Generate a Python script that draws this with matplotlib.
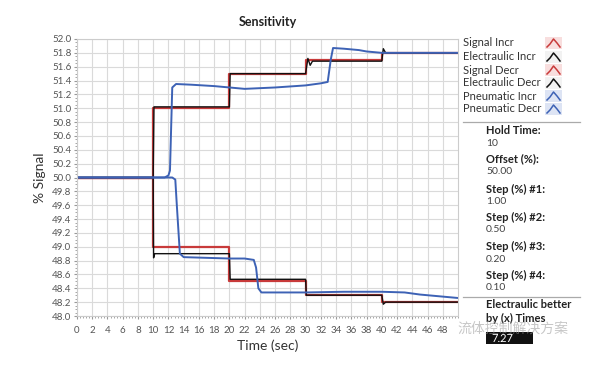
import matplotlib
matplotlib.use("Agg")
import matplotlib.pyplot as plt
from matplotlib.lines import Line2D
from matplotlib.patches import Rectangle
from matplotlib.ticker import MultipleLocator, FormatStrFormatter

plt.rcParams['font.family'] = ['Lato', 'Noto Sans CJK SC', 'DejaVu Sans']

# step signal, levels held from each time
step_t = [0, 10, 20, 30, 40, 50]
signal_incr = [50.0, 51.0, 51.5, 51.7, 51.8, 51.8]
signal_decr = [50.0, 49.0, 48.5, 48.3, 48.2, 48.2]

elec_incr_t = [0, 10, 10.1, 20, 20.1, 30, 30.3, 30.6, 30.9, 40, 40.2, 40.5, 50]
elec_incr_v = [50.0, 50.0, 51.02, 51.02, 51.5, 51.5, 51.72, 51.62, 51.68, 51.68, 51.86, 51.8, 51.8]

elec_decr_t = [0, 10, 10.05, 10.2, 20, 20.1, 30, 30.1, 40, 40.2, 40.5, 50]
elec_decr_v = [50.0, 50.0, 48.84, 48.9, 48.9, 48.53, 48.53, 48.3, 48.3, 48.17, 48.2, 48.2]

pneu_incr_t = [0, 11.5, 12.0, 12.2, 12.5, 13, 15, 18, 20, 22, 26, 30, 32, 32.9, 33.3, 33.6, 35, 37, 38, 40, 42, 50]
pneu_incr_v = [50.0, 50.0, 50.03, 50.1, 51.3, 51.35, 51.34, 51.32, 51.30, 51.28, 51.3, 51.33, 51.36, 51.38, 51.7, 51.87, 51.86, 51.84, 51.82, 51.8, 51.8, 51.8]

pneu_decr_t = [0, 12.5, 12.9, 13.1, 13.5, 14, 17, 20, 22, 23.2, 23.5, 23.8, 24.2, 26, 30, 35, 40, 43, 45, 47, 50]
pneu_decr_v = [50.0, 50.0, 49.97, 49.6, 48.9, 48.85, 48.84, 48.83, 48.83, 48.81, 48.7, 48.4, 48.34, 48.34, 48.34, 48.35, 48.35, 48.34, 48.31, 48.29, 48.26]

legend_names = ["Signal Incr", "Electraulic Incr", "Signal Decr",
                "Electraulic Decr", "Pneumatic Incr", "Pneumatic Decr"]
legend_colors = ["#c83a3a", "#111111", "#c83a3a", "#111111", "#3d62b5", "#3d62b5"]

settings = [("Hold Time:", "10"), ("Offset (%):", "50.00"),
            ("Step (%) #1:", "1.00"), ("Step (%) #2:", "0.50"),
            ("Step (%) #3:", "0.20"), ("Step (%) #4:", "0.10")]
ratio_label = ["Electraulic better", "by (x) Times"]
ratio_value = "7.27"

RED = "#c83a3a"
BLACK = "#111111"
BLUE = "#3d62b5"
W, H = 602, 370


def px(x, y):
    return x / W, 1 - y / H


fig = plt.figure(figsize=(6.02, 3.70), dpi=100)
ax = fig.add_axes([77 / W, 1 - 316 / H, 381 / W, 277 / H])

ax.step(step_t, signal_incr, where="post", color=RED, lw=1.6)
ax.step(step_t, signal_decr, where="post", color=RED, lw=1.6)
ax.plot(elec_incr_t, elec_incr_v, color=BLACK, lw=1.0)
ax.plot(elec_decr_t, elec_decr_v, color=BLACK, lw=1.0)
ax.plot(pneu_incr_t, pneu_incr_v, color=BLUE, lw=1.4)
ax.plot(pneu_decr_t, pneu_decr_v, color=BLUE, lw=1.4)

ax.set_xlim(0, 50)
ax.set_ylim(48.0, 52.0)
ax.set_xticks(range(0, 50, 2))
ax.xaxis.set_minor_locator(MultipleLocator(0.4))
ax.yaxis.set_major_locator(MultipleLocator(0.2))
ax.yaxis.set_minor_locator(MultipleLocator(0.05))
ax.yaxis.set_major_formatter(FormatStrFormatter("%.1f"))
ax.grid(True, which="major", color="#dadada", lw=0.8)
ax.set_axisbelow(True)
ax.tick_params(which="both", colors="#999999", labelcolor="#555555", labelsize=7,
               direction="out")
ax.tick_params(which="major", length=2.5)
ax.tick_params(which="minor", length=1.5)
ax.tick_params(axis="x", pad=5)
ax.tick_params(axis="y", pad=1.5)
for s in ax.spines.values():
    s.set_color("#cccccc")
    s.set_linewidth(0.8)

ax.set_xlabel("Time (sec)", fontsize=10, color="#333333", labelpad=3)
ax.set_ylabel("% Signal", fontsize=10, color="#333333", labelpad=4)
ax.set_title("Sensitivity", fontsize=9, fontweight="bold", color="#222222", pad=9)

# legend on the right
ys = [43, 57, 70, 83, 96, 109]
for name, col, y in zip(legend_names, legend_colors, ys):
    fig.text(*px(463, y), name, fontsize=8, color="#333333", va="center", ha="left")
    bg = "#f8dede" if col == RED else ("#dde4f4" if col == BLUE else "#f2f2f2")
    fig.add_artist(Rectangle(px(545, y + 6), 17 / W, 12 / H, transform=fig.transFigure,
                             facecolor=bg, edgecolor="none"))
    xs = [547, 550, 553.5, 557, 560]
    yy = [y + 4, y + 1, y - 4, y + 0, y + 4]
    fig.add_artist(Line2D([px(a, 0)[0] for a in xs], [px(0, b)[1] for b in yy],
                          transform=fig.transFigure, color=col, lw=1.1))

# settings panel
for ly in (122, 297):
    fig.add_artist(Line2D([463 / W, 580 / W], [1 - ly / H] * 2, transform=fig.transFigure,
                          color="#aaaaaa", lw=0.9))

label_y = [131, 159, 189, 217, 246, 275]
for (lab, val), y in zip(settings, label_y):
    fig.text(*px(486, y), lab, fontsize=8, fontweight="bold", color="#222222", va="center")
    fig.text(*px(486, y + 13), val, fontsize=7.5, color="#444444", va="center")

fig.text(*px(486, 305), ratio_label[0], fontsize=8, fontweight="bold", color="#222222", va="center")
fig.text(*px(486, 318), ratio_label[1], fontsize=8, fontweight="bold", color="#222222", va="center")
fig.add_artist(Rectangle(px(486, 344), 47 / W, 12 / H, transform=fig.transFigure,
                         facecolor="#111111", edgecolor="none"))
fig.text(*px(491, 338), ratio_value, fontsize=8, color="white", va="center")

# watermark
fig.text(*px(457, 329), "流体控制解决方案", fontsize=10, color="#999999", alpha=0.55,
         va="center", family=["Noto Sans CJK SC", "DejaVu Sans"])

fig.savefig("out.png", dpi=100)
